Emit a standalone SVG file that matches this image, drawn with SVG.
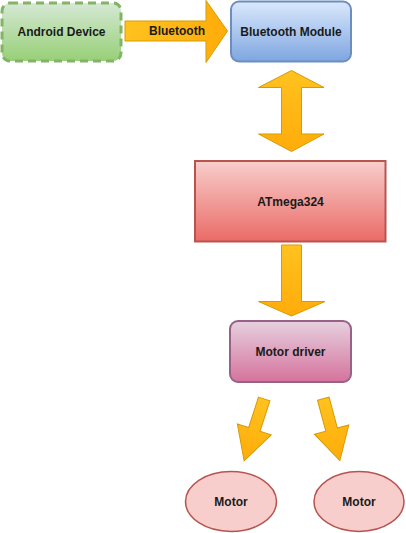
<svg xmlns="http://www.w3.org/2000/svg" width="406" height="533" viewBox="0 0 406 533">
<defs>
<linearGradient id="gGreen" x1="0" y1="0" x2="0" y2="1"><stop offset="0" stop-color="#d5e8d4"/><stop offset="1" stop-color="#97d077"/></linearGradient>
<linearGradient id="gBlue" x1="0" y1="0" x2="0" y2="1"><stop offset="0" stop-color="#dae8fc"/><stop offset="1" stop-color="#7ea6e0"/></linearGradient>
<linearGradient id="gRed" x1="0" y1="0" x2="0" y2="1"><stop offset="0" stop-color="#f8cecc"/><stop offset="1" stop-color="#ea6b66"/></linearGradient>
<linearGradient id="gPurple" x1="0" y1="0" x2="0" y2="1"><stop offset="0" stop-color="#e6d0de"/><stop offset="1" stop-color="#d5739d"/></linearGradient>
<linearGradient id="gArrow" x1="0" y1="0" x2="0" y2="1"><stop offset="0" stop-color="#ffc21f"/><stop offset="1" stop-color="#ffac0a"/></linearGradient>
<linearGradient id="gArrowH" x1="0" y1="0" x2="1" y2="0"><stop offset="0" stop-color="#ffc21f"/><stop offset="1" stop-color="#ffac0a"/></linearGradient>
</defs>
<style>
.lbl{font-family:"Liberation Sans",Arial,sans-serif;font-size:12px;font-weight:bold;fill:#1a1a1a;text-anchor:middle;dominant-baseline:central}
.arr{fill:url(#gArrow);stroke:#d79b00;stroke-width:1}
.arrH{fill:url(#gArrowH);stroke:#d79b00;stroke-width:1}
</style>
<g id="connectors">
<g id="arrow-bluetooth">
<path class="arrH" d="M125,21 L206,21 L206,0.5 L227.5,31 L206,62.5 L206,41 L125,41 Z"/>
<text class="lbl" x="177" y="31">Bluetooth</text>
</g>
<path id="arrow-bt-atmega" class="arr" d="M291.5,70.5 L324,87.5 L301.5,87.5 L301.5,134 L324,134 L291.5,151.5 L258.5,134 L281.5,134 L281.5,87.5 L258.5,87.5 Z"/>
<path id="arrow-atmega-driver" class="arr" d="M281.5,245 L301.5,245 L301.5,301.5 L325,301.5 L291.5,316 L258.5,301.5 L281.5,301.5 Z"/>
<path id="arrow-driver-motor1" class="arr" transform="translate(264.2,399) rotate(18)" d="M-6,0 L6,0 L6,32 L17.8,32 L0,65 L-17.8,32 L-6,32 Z"/>
<path id="arrow-driver-motor2" class="arr" transform="translate(323.3,398.7) rotate(-15)" d="M-6,0 L6,0 L6,32 L17.8,32 L0,64 L-17.8,32 L-6,32 Z"/>
</g>
<g id="android-device">
<rect x="2" y="3" width="119" height="58" rx="8" fill="url(#gGreen)" stroke="#82b366" stroke-width="3" stroke-dasharray="8,5"/>
<text class="lbl" x="61.5" y="32">Android Device</text>
</g>
<g id="bluetooth-module">
<rect x="231" y="1.5" width="120" height="60" rx="8" fill="url(#gBlue)" stroke="#6c8ebf" stroke-width="2"/>
<text class="lbl" x="291" y="32">Bluetooth Module</text>
</g>
<g id="atmega324">
<rect x="195" y="161" width="190.5" height="80.5" fill="url(#gRed)" stroke="#b85450" stroke-width="2"/>
<text class="lbl" x="290.5" y="202">ATmega324</text>
</g>
<g id="motor-driver">
<rect x="230" y="321" width="121" height="61" rx="8" fill="url(#gPurple)" stroke="#996185" stroke-width="2"/>
<text class="lbl" x="290.5" y="352">Motor driver</text>
</g>
<g id="motor-left">
<ellipse cx="231" cy="501.5" rx="45.5" ry="30" fill="#f8cecc" stroke="#b85450" stroke-width="1.5"/>
<text class="lbl" x="231" y="502">Motor</text>
</g>
<g id="motor-right">
<ellipse cx="359" cy="501.5" rx="45" ry="30" fill="#f8cecc" stroke="#b85450" stroke-width="1.5"/>
<text class="lbl" x="359" y="502">Motor</text>
</g>
</svg>
